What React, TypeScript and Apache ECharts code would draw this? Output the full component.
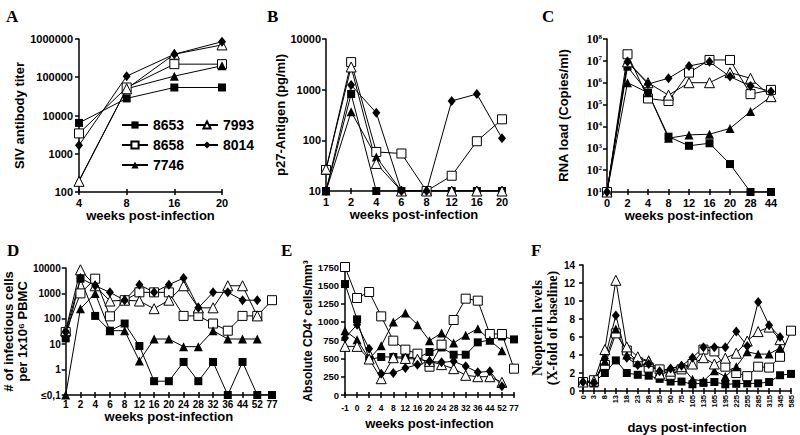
import React, { useEffect, useRef } from "react";
import * as echarts from "echarts";

const names = ["8653", "8658", "7746", "7993", "8014"];

// Panel A
const catA = ["4", "8", "16", "20"];
const sivA8653 = [6400, 28000, 54000, 54000];
const sivA8658 = [3400, 54000, 220000, 220000];
const sivA7746 = [200, 50000, 107000, 200000];
const sivA7993 = [190, 50000, 400000, 700000];
const sivA8014 = [1660, 107000, 400000, 850000];

// Panel B
const catB = ["1", "2", "4", "6", "8", "12", "16", "20"];
const p27B8653 = [10, 820, 10, 10, 10, 10, 10, 10];
const p27B8658 = [26, 3500, 59, 55, 10, 20, 96, 260];
const p27B7746 = [10, 365, 47, 10, 10, 10, 10, 10];
const p27B7993 = [27, 2800, 35, 10, 10, 10, 10, 10];
const p27B8014 = [10, 1230, 350, 10, 10, 600, 820, 110];

// Panel C
const catC = ["0", "2", "4", "8", "12", "16", "20", "28", "44"];
const rnaC8653 = [10, 5.4e6, 3.5e5, 3400, 1300, 1700, 190, 10, 10];
const rnaC8658 = [10, 2e7, 1.9e5, 1.45e5, 2.9e6, 1.1e7, 1.1e7, 3e5, 4.7e5];
const rnaC7746 = [10, 1e6, 3.5e5, 2900, 4100, 4400, 8100, 4.8e4, 2.3e5];
const rnaC7993 = [10, 9e6, 1e6, 2.7e5, 1e6, 1e6, 2.9e6, 1.6e6, 2.3e5];
const rnaC8014 = [10, 9e6, 8.7e5, 1.6e6, 5.8e6, 9e6, 1.9e6, 7e5, 4e5];

// Panel D
const catD = ["1", "2", "4", "6", "8", "12", "16", "20", "24", "28", "32", "36", "44", "52", "77"];
const infD8653 = [17, 3800, 130, 34, 65, 8.5, 0.35, 0.35, 2, 0.35, 2, 0.1, 2, 0.1, 0.1];
const infD8658 = [30, 1000, 3800, 125, 540, 1100, 1100, 1100, 130, 130, 65, 34, 130, 130, 540];
const infD7746 = [0.1, 250, 1000, 34, 34, 2.2, 16, 16, 8, 8, 34, 16, 16, 16, null];
const infD7993 = [35, 8500, 2000, 500, 540, 500, 250, 540, 2000, 270, 270, 2000, 2000, 130, null];
const infD8014 = [30, 4000, 2000, 1100, 540, 2200, 1100, 2200, 4000, 270, 1100, 1100, 540, 540, null];

// Panel E
const catE = ["-1", "0", "2", "4", "8", "12", "16", "20", "24", "28", "32", "36", "44", "52", "77"];
const cd4E8653 = [1517, 1034, 483, 520, 520, 520, 506, 588, 650, 551, 551, 720, 752, 800, 760];
const cd4E8658 = [1750, 1326, 1408, 1075, 743, 620, 565, 387, 688, 1025, 1317, 1290, 834, 834, 360];
const cd4E7746 = [880, 757, 492, 674, 998, 1121, 962, 743, 848, 711, 816, 907, 748, 606, null];
const cd4E7993 = [665, 665, 492, 223, 510, 500, 490, 460, 415, 360, 269, 250, 250, 173, null];
const cd4E8014 = [780, 962, 633, 292, 300, 369, 415, 460, 447, 460, 392, 310, 324, 118, null];

// Panel F
const catF = ["0", "3", "8", "13", "18", "23", "28", "35", "50", "75", "105", "135", "165", "195", "225", "255", "285", "315", "345", "585"];
const neoF8653 = [1.0, 1.0, 2.0, 3.4, 2.0, 1.8, 1.7, 1.35, 1.05, 1.05, 0.75, 0.9, 1.0, 0.75, 0.8, 0.85, 0.85, 1.0, 1.75, 1.9];
const neoF8658 = [1.0, 1.2, 2.9, 6.4, 4.5, 3.2, 2.6, 2.4, 1.8, 2.4, 3.0, 4.6, 4.4, 2.7, 2.0, 1.65, 2.7, 2.6, 3.8, 6.7];
const neoF7746 = [1.0, 0.9, 3.3, 6.9, 4.0, 3.2, 3.5, 2.2, 2.5, 2.8, 1.3, 1.1, 2.25, 1.6, 2.7, 4.35, 4.1, 4.1, 4.8, null];
const neoF7993 = [1.0, 1.1, 4.6, 12.3, 4.9, 3.8, 3.3, 1.9, 2.2, 2.7, 3.0, 3.7, 3.0, 3.65, 4.2, 5.55, 6.6, 7.1, 5.7, null];
const neoF8014 = [1.0, 0.9, 3.6, 8.4, 3.7, 2.9, 3.0, 2.2, 2.5, 2.8, 3.7, 4.85, 4.85, 4.85, 6.6, 5.0, 9.9, 7.3, 6.0, null];

const SANS = "Liberation Sans";
const SERIF = "Liberation Serif";

const symbolFor: Record<string, any> = {
  "8653": { symbol: "rect", symbolSize: 8, empty: false },
  "8658": { symbol: "rect", symbolSize: 9, empty: true },
  "7746": { symbol: "triangle", symbolSize: 9, empty: false },
  "7993": { symbol: "triangle", symbolSize: 10, empty: true },
  "8014": { symbol: "diamond", symbolSize: [8, 10], empty: false },
};

const grids = [
  { left: 79, top: 39, width: 143, height: 153 },
  { left: 326, top: 39, width: 176, height: 152 },
  { left: 607, top: 39, width: 164, height: 153 },
  { left: 63, top: 268, width: 209, height: 127 },
  { left: 345, top: 267, width: 169, height: 128 },
  { left: 583, top: 265, width: 208, height: 128 },
];

export default function App() {
  const ref = useRef<HTMLDivElement>(null);
  useEffect(() => {
    const chart = echarts.init(ref.current!, null, { renderer: "svg" });

    const panels = [
      { cats: catA, data: [sivA8653, sivA8658, sivA7746, sivA7993, sivA8014] },
      { cats: catB, data: [p27B8653, p27B8658, p27B7746, p27B7993, p27B8014] },
      { cats: catC, data: [rnaC8653, rnaC8658, rnaC7746, rnaC7993, rnaC8014] },
      { cats: catD, data: [infD8653, infD8658, infD7746, infD7993, infD8014] },
      { cats: catE, data: [cd4E8653, cd4E8658, cd4E7746, cd4E7993, cd4E8014] },
      { cats: catF, data: [neoF8653, neoF8658, neoF7746, neoF7993, neoF8014] },
    ];

    const xNameCfg = [
      { name: "weeks post-infection", gap: 15, lblSize: 11, margin: 5 },
      { name: "weeks post-infection", gap: 15, lblSize: 11, margin: 5 },
      { name: "weeks post-infection", gap: 15, lblSize: 11, margin: 5 },
      { name: "weeks post-infection", gap: 15, lblSize: 10, margin: 4 },
      { name: "weeks post-infection", gap: 22, lblSize: 8.5, margin: 8 },
      { name: "days post-infection", gap: 30, lblSize: 7.5, margin: 4 },
    ];

    const xAxis: any[] = [];
    panels.forEach((p, i) => {
      const c = xNameCfg[i];
      xAxis.push({
        type: "category",
        gridIndex: i,
        data: p.cats,
        boundaryGap: false,
        name: c.name,
        nameLocation: "middle",
        nameGap: c.gap,
        nameTextStyle: { fontFamily: SANS, fontWeight: "bold", fontSize: 13, color: "#000" },
        axisLine: { show: true, lineStyle: { color: "#000", width: 1.5 } },
        axisTick: { show: true, interval: 0, length: 3, lineStyle: { color: "#000", width: 1.5 } },
        axisLabel: {
          interval: 0,
          fontFamily: SANS,
          fontWeight: "bold",
          fontSize: c.lblSize,
          color: "#000",
          margin: c.margin,
          rotate: i === 5 ? 90 : 0,
          hideOverlap: false,
        },
        splitLine: { show: false },
      });
    });
    panels.forEach((p, i) => {
      xAxis.push({
        type: "category",
        gridIndex: i,
        data: p.cats,
        boundaryGap: false,
        position: "bottom",
        axisLine: { show: false },
        axisTick: { show: true, inside: true, interval: 0, length: 3, lineStyle: { color: "#000", width: 1.5 } },
        axisLabel: { show: false },
        splitLine: { show: false },
      });
    });

    const yBase = (i: number) => ({
      gridIndex: i,
      nameLocation: "middle",
      axisLine: { show: true, lineStyle: { color: "#000", width: 1.5 } },
      axisTick: { show: true, length: 4, lineStyle: { color: "#000", width: 1.5 } },
      splitLine: { show: false },
      nameTextStyle: { fontFamily: SANS, fontWeight: "bold", fontSize: 13, color: "#000" },
    });
    const lbl = (size: number, margin: number, extra: any = {}) => ({
      fontFamily: SANS,
      fontWeight: "bold",
      fontSize: size,
      color: "#000",
      margin,
      ...extra,
    });

    const yAxis: any[] = [
      {
        ...yBase(0),
        type: "log",
        logBase: 10,
        min: 100,
        max: 1000000,
        interval: 1,
        name: "SIV antibody titer",
        nameGap: 45,
        axisLabel: lbl(11, 6, { formatter: (v: number) => String(Math.round(v)) }),
      },
      {
        ...yBase(1),
        type: "log",
        logBase: 10,
        min: 10,
        max: 10000,
        interval: 1,
        name: "p27-Antigen (pg/ml)",
        nameGap: 34,
        axisLabel: lbl(11, 5, { formatter: (v: number) => String(Math.round(v)) }),
      },
      {
        ...yBase(2),
        type: "log",
        logBase: 10,
        min: 10,
        max: 100000000,
        interval: 1,
        name: "RNA load (Copies/ml)",
        nameGap: 37,
        axisLabel: {
          fontFamily: SERIF,
          fontWeight: "bold",
          fontSize: 12,
          color: "#000",
          margin: 5,
          formatter: (v: number) => "10{s|" + Math.round(Math.log10(v)) + "}",
          rich: {
            s: { fontFamily: SERIF, fontWeight: "bold", fontSize: 7, verticalAlign: "top", color: "#000" },
          },
        },
      },
      {
        ...yBase(3),
        type: "log",
        logBase: 10,
        min: 0.1,
        max: 10000,
        interval: 1,
        name: "# of infectious cells\nper 1x10⁶ PBMC",
        nameGap: 31,
        nameTextStyle: { fontFamily: SANS, fontWeight: "bold", fontSize: 13, color: "#000", lineHeight: 14 },
        axisLabel: lbl(10, 5, { formatter: (v: number) => (v < 0.5 ? "≤0,1" : String(Math.round(v))) }),
      },
      {
        ...yBase(4),
        type: "value",
        min: 0,
        max: 1750,
        interval: 250,
        name: "Absolute CD4⁺ cells/mm³",
        nameGap: 30,
        nameTextStyle: { fontFamily: SANS, fontWeight: "bold", fontSize: 12, color: "#000" },
        axisLabel: lbl(9.5, 6, { formatter: (v: number) => String(v) }),
      },
      {
        ...yBase(5),
        type: "value",
        min: 0,
        max: 14,
        interval: 2,
        name: "Neopterin levels\n(X-fold of baseline)",
        nameGap: 20,
        nameTextStyle: { fontFamily: SERIF, fontWeight: "bold", fontSize: 14, color: "#000", lineHeight: 15 },
        axisLabel: lbl(10, 8, { formatter: (v: number) => String(v) }),
      },
    ];

    const series: any[] = [];
    panels.forEach((p, i) => {
      names.forEach((n, k) => {
        const s = symbolFor[n];
        series.push({
          type: "line",
          name: n,
          xAxisIndex: i,
          yAxisIndex: i,
          data: p.data[k],
          symbol: s.symbol,
          symbolSize: s.symbolSize,
          showAllSymbol: true,
          lineStyle: { color: "#000", width: 1 },
          itemStyle: s.empty
            ? { color: "#fff", borderColor: "#000", borderWidth: 1 }
            : { color: "#000", borderWidth: 0 },
          emphasis: { disabled: true },
        });
      });
    });

    const legendText = { fontFamily: SANS, fontWeight: "bold", fontSize: 14, color: "#000" };

    chart.setOption({
      animation: false,
      backgroundColor: "#fff",
      grid: grids.map((g) => ({ ...g, containLabel: false })),
      xAxis,
      yAxis,
      series,
      legend: [
        {
          data: ["8653", "8658", "7746"],
          orient: "vertical",
          left: 116,
          top: 113,
          itemWidth: 26,
          itemHeight: 9,
          itemGap: 6,
          textStyle: legendText,
          selectedMode: false,
        },
        {
          data: ["7993", "8014"],
          orient: "vertical",
          left: 190,
          top: 113,
          itemWidth: 22,
          itemHeight: 9,
          itemGap: 6,
          textStyle: legendText,
          selectedMode: false,
        },
      ],
      graphic: [
        ["A", 6, 8],
        ["B", 267, 8],
        ["C", 542, 8],
        ["D", 7, 242],
        ["E", 281, 242],
        ["F", 531, 242],
      ].map(([t, x, y]) => ({
        type: "text",
        left: x,
        top: y,
        style: { text: t, fontFamily: SERIF, fontWeight: "bold", fontSize: 17, fill: "#000" },
      })),
    });
    return () => chart.dispose();
  }, []);
  return <div ref={ref} style={{ position: "fixed", left: 0, top: 0, width: 800, height: 435 }} />;
}
